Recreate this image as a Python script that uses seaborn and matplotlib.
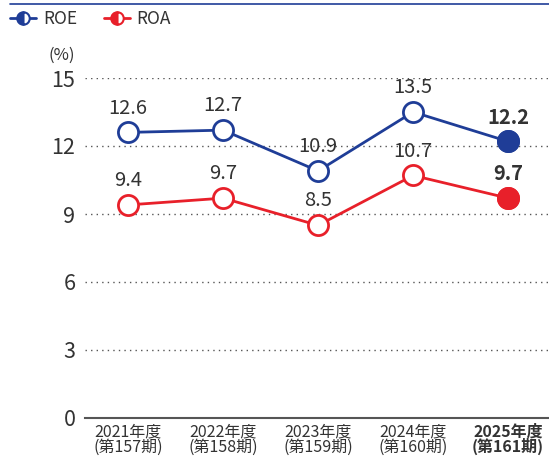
import matplotlib
matplotlib.use("Agg")
import matplotlib.pyplot as plt
import seaborn as sns
import pandas as pd
from matplotlib.lines import Line2D

years = ["2021年度", "2022年度", "2023年度", "2024年度", "2025年度"]
terms = ["(第157期)", "(第158期)", "(第159期)", "(第160期)", "(第161期)"]
roe = [12.6, 12.7, 10.9, 13.5, 12.2]
roa = [9.4, 9.7, 8.5, 10.7, 9.7]

BLUE = "#1f3d97"
RED = "#e8202a"

sns.set_theme(style="white")
plt.rcParams["font.family"] = ["Noto Sans CJK JP", "DejaVu Sans"]

df = pd.DataFrame({"x": range(len(years)), "ROE": roe, "ROA": roa})

fig = plt.figure(figsize=(5.49, 4.58), dpi=100)
ax = fig.add_axes([85 / 549, 40 / 458, 464 / 549, 340 / 458])

for col, color in [("ROE", BLUE), ("ROA", RED)]:
    sns.lineplot(data=df, x="x", y=col, ax=ax, color=color, linewidth=2,
                 marker="o", markersize=14.5, markerfacecolor="white",
                 markeredgecolor=color, markeredgewidth=2, clip_on=False, zorder=3)
    # last point filled
    ax.plot(df["x"].iloc[-1], df[col].iloc[-1], "o", markersize=14.5,
            color=color, markeredgecolor=color, markeredgewidth=2,
            clip_on=False, zorder=4)
    for i, v in enumerate(df[col]):
        last = i == len(df) - 1
        ax.annotate(f"{v:.1f}", (i, v), xytext=(0, 10), textcoords="offset points",
                    ha="center", va="bottom", fontsize=14.5, color="#333333",
                    fontweight="bold" if last else "normal")

ax.set_xlim(-0.453, 4.43)
ax.set_ylim(0, 15)
ax.set_yticks([0, 3, 6, 9, 12, 15])
ax.set_xticks(range(len(years)))
ax.set_xticklabels([f"{y}\n{t}" for y, t in zip(years, terms)], fontsize=11.5,
                   color="#333333", linespacing=0.9)
ax.get_xticklabels()[-1].set_fontweight("bold")
ax.tick_params(axis="y", labelsize=15.5, colors="#333333", length=0, pad=7)
ax.tick_params(axis="x", length=0, pad=4)
ax.set_xlabel("")
ax.set_ylabel("")
for s in ["top", "right", "left"]:
    ax.spines[s].set_visible(False)
ax.spines["bottom"].set_color("#555555")
ax.spines["bottom"].set_linewidth(1.5)
for y in [3, 6, 9, 12, 15]:
    ax.axhline(y, color="#555555", linestyle=(0, (1, 3)), linewidth=1, zorder=1)

fig.text(49 / 549, 1 - 55 / 458, "(%)", fontsize=12, color="#333333", va="center")

# top rule
fig.add_artist(Line2D([10 / 549, 1], [1 - 4 / 458, 1 - 4 / 458], color=BLUE, linewidth=1.2))

handles = [Line2D([0], [0], color=c, linewidth=2, marker="o", markersize=9,
                  markerfacecolor=c, markerfacecoloralt="white", fillstyle="left",
                  markeredgecolor=c, markeredgewidth=1.5) for c in (BLUE, RED)]
fig.legend(handles, ["ROE", "ROA"], loc="upper left", bbox_to_anchor=(0.0, 1.0),
           ncol=2, frameon=False, fontsize=12.5, handlelength=1.5, handletextpad=0.4,
           columnspacing=1.5, labelcolor="#333333", borderaxespad=0.2)

fig.savefig("out.png", dpi=100)
